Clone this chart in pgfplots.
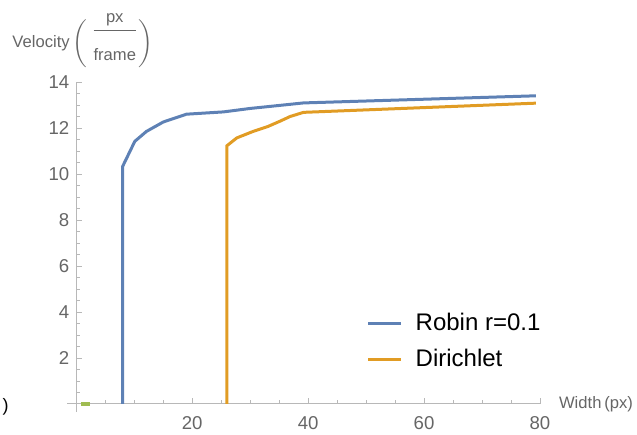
\documentclass[border=0pt]{standalone}
\usepackage{pgfplots}
\pgfplotsset{compat=1.18}
\usepackage{fontspec}
\setmainfont{Liberation Sans}
\definecolor{mblue}{rgb}{0.368,0.507,0.71}
\definecolor{morange}{rgb}{0.881,0.611,0.142}
\definecolor{mgreen}{rgb}{0.56,0.692,0.195}
\definecolor{tickgray}{gray}{0.4}
\definecolor{axgray}{gray}{0.72}
\begin{document}
\begin{tikzpicture}
\useasboundingbox (-33.5pt,-11pt) rectangle (285pt,206pt);
\begin{axis}[
  at={(0,0)}, anchor=south west,
  scale only axis, width=236.5pt, height=165pt,
  xmin=-1.6, xmax=80, ymin=-0.35, ymax=14,
  axis lines=middle,
  axis line style={axgray, -, line width=0.5pt},
  every inner x axis line/.append style={-},
  every inner y axis line/.append style={-},
  tick align=inside,
  major tick length=3pt, minor tick length=1.8pt,
  every tick/.style={axgray, line width=0.4pt},
  xtick={20,40,60,80}, minor xtick={5,10,15,25,30,35,45,50,55,65,70,75},
  ytick={2,4,6,8,10,12,14},
  minor ytick={0.5,1,1.5,2.5,3,3.5,4.5,5,5.5,6.5,7,7.5,8.5,9,9.5,10.5,11,11.5,12.5,13,13.5},
  /pgf/number format/assume math mode=true,
  tick label style={font=\fontsize{9.3}{11}\selectfont, text=tickgray},
  xticklabel style={yshift=-2.5pt},
  xlabel={Width\,(px)},
  xlabel style={at={(axis cs:80,0)}, anchor=west, xshift=6pt, font=\fontsize{8.3}{10}\selectfont, text=tickgray},
  ylabel={Velocity\,$\left(\rule[-10.3pt]{0pt}{25pt}\right.$\hspace{2pt}\raisebox{-6pt}{\begin{tabular}[b]{@{}c@{}}px\rule[-4pt]{0pt}{0pt}\\\hline\rule{0pt}{14.5pt}frame\end{tabular}}$\left.\rule[-10.3pt]{0pt}{25pt}\right)$},
  ylabel style={at={(rel axis cs:0,1)}, anchor=base west, rotate=0, xshift=-30.8pt, yshift=17pt, font=\fontsize{8.3}{8}\selectfont, text=tickgray},
  legend cell align=left,
  legend style={draw=none, fill=none, at={(axis cs:49,4.3)}, anchor=north west,
    font=\fontsize{12}{14}\selectfont, row sep=3.5pt,
    /tikz/every odd column/.append style={column sep=4.5pt}},
  legend image code/.code={\draw[#1, line width=1.5pt] (0pt,0pt) -- (16.5pt,0pt);},
]
\addplot[mblue, line width=1.5pt] coordinates {
  (8,0) (8,10.33) (10.1,11.42) (12.1,11.85) (15,12.26) (19,12.6) (25.4,12.7)
  (30,12.85) (35,12.98) (39.2,13.09) (79.3,13.4)
};
\addlegendentry{Robin r=0.1}
\addplot[morange, line width=1.5pt] coordinates {
  (26,0) (26,11.23) (27.7,11.57) (30.5,11.85) (33.1,12.07) (35.1,12.29)
  (36.9,12.5) (39.2,12.68) (79.3,13.08)
};
\addlegendentry{Dirichlet}
\addplot[mgreen!85!white, line width=1.6pt, forget plot] coordinates {(0.85,0) (2.35,0)};
\end{axis}
\node[anchor=center, font=\fontsize{9}{11}\selectfont] at (-30.75pt,2.75pt) {)};
\end{tikzpicture}
\end{document}
